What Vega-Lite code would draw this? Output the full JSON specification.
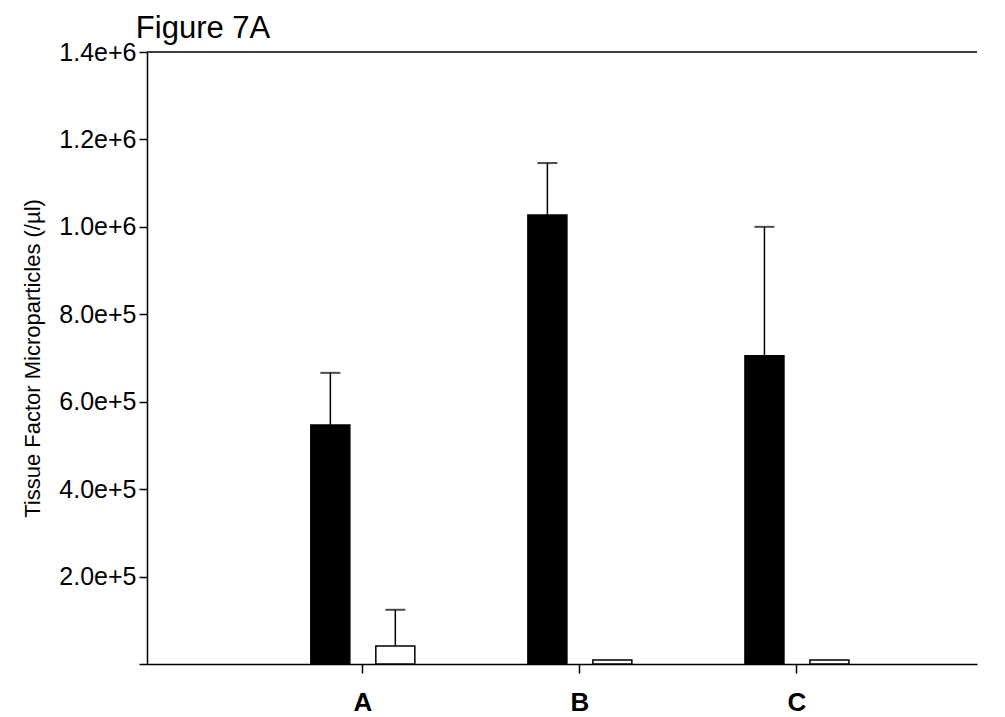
{
  "$schema": "https://vega.github.io/schema/vega-lite/v6.json",
  "width": 830,
  "height": 612,
  "autosize": "none",
  "padding": {"left": 147, "top": 52, "right": 28, "bottom": 53},
  "background": "white",
  "config": {
    "view": {"stroke": null},
    "font": "Liberation Sans",
    "axis": {"domainColor": "black", "tickColor": "black", "labelColor": "black", "titleColor": "black", "grid": false, "domainWidth": 1.5, "tickWidth": 1.5}
  },
  "title": {"text": "Figure 7A", "anchor": "start", "font": "Liberation Sans", "fontSize": 31, "fontWeight": "normal", "dx": 114, "offset": -5, "color": "black"},
  "data": {
    "values": [
      {"cat": "A", "grp": "black", "value": 547000, "upper": 666000},
      {"cat": "A", "grp": "white", "value": 41000, "upper": 124000},
      {"cat": "B", "grp": "black", "value": 1027000, "upper": 1146000},
      {"cat": "B", "grp": "white", "value": 9000, "upper": null},
      {"cat": "C", "grp": "black", "value": 705000, "upper": 1000000},
      {"cat": "C", "grp": "white", "value": 9000, "upper": null}
    ]
  },
  "encoding": {
    "x": {
      "field": "cat", "type": "nominal", "title": null,
      "scale": {"domain": ["A", "B", "C"], "paddingInner": 0, "paddingOuter": 0.412, "align": 0.6},
      "axis": {"labelAngle": 0, "labelFontSize": 26, "labelFontWeight": "bold", "tickSize": 9, "labelPadding": 16, "labelFont": "Liberation Sans"}
    },
    "xOffset": {"field": "grp", "type": "nominal", "scale": {"domain": ["black", "white"], "paddingOuter": 0.67, "paddingInner": 0}}
  },
  "layer": [
    {
      "mark": {"type": "bar", "width": 39, "stroke": "black", "strokeWidth": 1.5},
      "encoding": {
        "y": {
          "field": "value", "type": "quantitative",
          "title": "Tissue Factor Microparticles (/µl)",
          "scale": {"domain": [0, 1400000], "nice": false},
          "axis": {"values": [0, 200000, 400000, 600000, 800000, 1000000, 1200000, 1400000], "labelExpr": "datum.value == 0 ? '' : format(datum.value, '.1e')", "labelFontSize": 25, "tickSize": 8, "labelPadding": 3, "titleFontSize": 22, "titleFontWeight": "normal", "titlePadding": 14}
        },
        "fill": {"field": "grp", "type": "nominal", "scale": {"domain": ["black", "white"], "range": ["black", "white"]}, "legend": null}
      }
    },
    {
      "transform": [{"filter": "datum.upper != null"}],
      "mark": {"type": "rule", "color": "black", "strokeWidth": 1.5},
      "encoding": {"y": {"field": "value", "type": "quantitative"}, "y2": {"field": "upper"}}
    },
    {
      "transform": [{"filter": "datum.upper != null"}],
      "mark": {"type": "tick", "orient": "horizontal", "color": "black", "size": 20, "thickness": 2},
      "encoding": {"y": {"field": "upper", "type": "quantitative"}}
    },
    {
      "data": {"values": [{"top": 1400000}]},
      "mark": {"type": "rule", "color": "black", "strokeWidth": 1.5},
      "encoding": {"y": {"field": "top", "type": "quantitative"}, "xOffset": null, "x": null}
    }
  ]
}
